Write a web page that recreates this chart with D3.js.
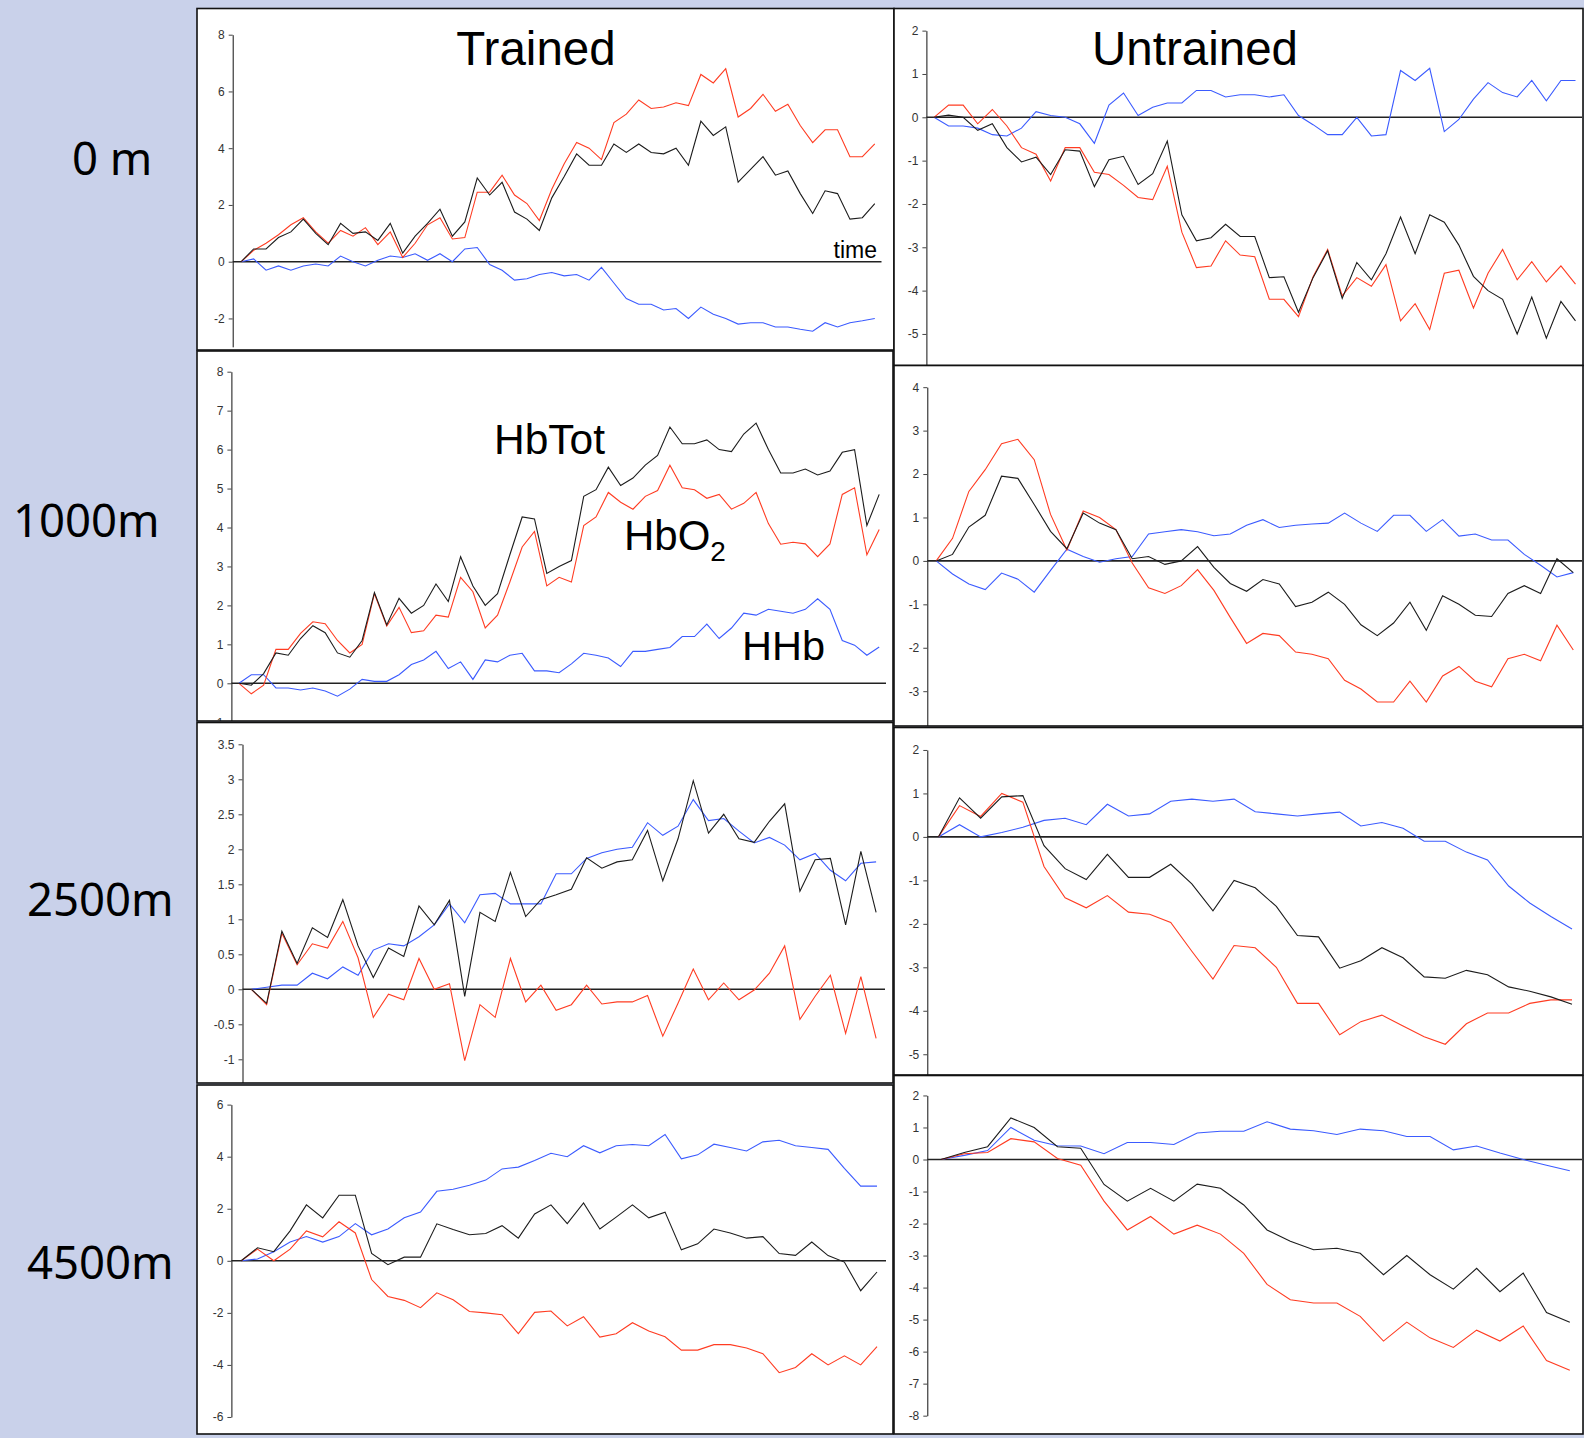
<!DOCTYPE html>
<html>
<head>
<meta charset="utf-8">
<script src="https://cdn.jsdelivr.net/npm/d3@7"></script>
<style>
  html, body { margin: 0; padding: 0; background: #c9d1ea; }
  svg { display: block; }
</style>
</head>
<body>
<svg id="chart" width="1584" height="1438"></svg>
<script>
// ---- Haemoglobin changes (arbitrary units) over time, per altitude and group ----

// Trained, 0 m
const trained0_HbTot = [0,0.45,0.45,0.85,1.05,1.5,1.0,0.6,1.35,1.0,1.05,0.75,1.35,0.3,0.9,1.35,1.85,0.9,1.4,2.95,2.35,2.8,1.75,1.5,1.1,2.25,3.0,3.8,3.4,3.4,4.15,3.85,4.15,3.85,3.8,4.0,3.4,4.95,4.45,4.75,2.8,3.25,3.7,3.05,3.2,2.4,1.7,2.5,2.4,1.5,1.55,2.05];
const trained0_HbO2  = [0,0.4,0.65,0.95,1.3,1.55,1.05,0.65,1.1,0.9,1.2,0.6,1.05,0.15,0.65,1.3,1.55,0.8,0.85,2.45,2.45,3.05,2.35,2.05,1.45,2.55,3.45,4.2,4.0,3.6,4.9,5.2,5.7,5.4,5.45,5.6,5.5,6.6,6.3,6.8,5.1,5.4,5.9,5.3,5.55,4.8,4.2,4.65,4.65,3.7,3.7,4.15];
const trained0_HHb   = [0,0.1,-0.3,-0.15,-0.3,-0.15,-0.08,-0.15,0.2,0.0,-0.15,0.05,0.2,0.15,0.28,0.05,0.28,0.0,0.45,0.5,-0.1,-0.3,-0.65,-0.6,-0.45,-0.38,-0.5,-0.45,-0.65,-0.2,-0.75,-1.3,-1.5,-1.5,-1.7,-1.65,-2.0,-1.6,-1.85,-2.0,-2.2,-2.15,-2.15,-2.3,-2.3,-2.38,-2.45,-2.15,-2.3,-2.15,-2.08,-2.0];

// Trained, 1000 m
const trained1000_HbTot = [0,-0.05,0.25,0.78,0.72,1.15,1.48,1.3,0.78,0.67,1.1,2.33,1.5,2.18,1.8,2.0,2.55,2.1,3.25,2.5,2.0,2.3,3.3,4.27,4.22,2.82,3.0,3.15,4.8,4.97,5.55,5.08,5.27,5.6,5.85,6.58,6.15,6.15,6.25,6.0,5.95,6.4,6.68,6.0,5.4,5.4,5.5,5.35,5.45,5.93,6.0,4.05,4.85];
const trained1000_HbO2  = [0,-0.27,-0.05,0.87,0.87,1.28,1.58,1.53,1.1,0.78,1.0,2.3,1.47,1.95,1.3,1.35,1.75,1.7,2.72,2.35,1.42,1.75,2.6,3.5,3.9,2.5,2.72,2.6,4.05,4.27,4.9,4.65,4.47,4.8,4.95,5.6,5.02,4.97,4.75,4.85,4.47,4.62,4.9,4.1,3.57,3.62,3.58,3.25,3.58,4.85,5.02,3.3,3.95];
const trained1000_HHb   = [0,0.22,0.22,-0.12,-0.12,-0.17,-0.12,-0.2,-0.33,-0.15,0.1,0.05,0.05,0.22,0.48,0.6,0.82,0.38,0.55,0.1,0.6,0.55,0.72,0.77,0.32,0.32,0.27,0.5,0.77,0.72,0.65,0.43,0.82,0.82,0.87,0.92,1.2,1.2,1.52,1.15,1.42,1.8,1.75,1.9,1.85,1.8,1.9,2.17,1.9,1.1,0.98,0.72,0.93];

// Trained, 2500 m
const trained2500_HbTot = [0,-0.2,0.83,0.37,0.88,0.74,1.28,0.62,0.17,0.59,0.47,1.19,0.92,1.27,-0.1,1.1,0.97,1.67,1.04,1.28,1.35,1.43,1.88,1.73,1.82,1.85,2.27,1.55,2.15,2.98,2.23,2.5,2.15,2.1,2.4,2.65,1.4,1.85,1.87,0.92,1.97,1.1];
const trained2500_HbO2  = [0,-0.22,0.8,0.35,0.65,0.59,0.97,0.45,-0.4,-0.07,-0.15,0.44,0.0,0.08,-1.02,-0.22,-0.4,0.44,-0.18,0.06,-0.3,-0.22,0.06,-0.21,-0.18,-0.18,-0.09,-0.67,-0.2,0.29,-0.15,0.09,-0.15,-0.01,0.23,0.62,-0.43,-0.1,0.2,-0.63,0.18,-0.7];
const trained2500_HHb   = [0,0.03,0.06,0.06,0.23,0.15,0.32,0.2,0.56,0.65,0.62,0.75,0.92,1.22,0.95,1.35,1.37,1.22,1.22,1.22,1.65,1.65,1.87,1.95,2.0,2.03,2.38,2.2,2.33,2.71,2.41,2.44,2.26,2.09,2.17,2.06,1.85,1.94,1.7,1.55,1.8,1.82];

// Trained, 4500 m
const trained4500_HbTot = [0,0.5,0.35,1.15,2.15,1.65,2.52,2.52,0.28,-0.15,0.14,0.14,1.42,1.2,1.0,1.05,1.35,0.87,1.8,2.15,1.43,2.22,1.22,1.68,2.15,1.65,1.87,0.42,0.65,1.22,1.07,0.87,0.93,0.28,0.21,0.72,0.2,-0.05,-1.15,-0.43];
const trained4500_HbO2  = [0,0.45,0.0,0.45,1.15,0.92,1.5,1.07,-0.72,-1.37,-1.52,-1.8,-1.23,-1.5,-1.95,-2.0,-2.07,-2.8,-1.98,-1.93,-2.5,-2.15,-2.93,-2.8,-2.38,-2.7,-2.92,-3.43,-3.43,-3.22,-3.22,-3.35,-3.57,-4.3,-4.1,-3.57,-4.0,-3.65,-4.0,-3.3];
const trained4500_HHb   = [0,0.07,0.35,0.72,0.93,0.72,0.93,1.43,1.0,1.22,1.65,1.87,2.67,2.75,2.9,3.1,3.53,3.6,3.85,4.13,4.0,4.42,4.15,4.42,4.47,4.42,4.85,3.92,4.07,4.48,4.35,4.22,4.57,4.63,4.42,4.35,4.28,3.55,2.87,2.87];

// Untrained, 0 m
const untrained0_HbTot = [0,0.05,0.0,-0.3,-0.15,-0.7,-1.03,-0.92,-1.32,-0.75,-0.78,-1.6,-0.98,-0.9,-1.55,-1.3,-0.55,-2.25,-2.85,-2.78,-2.47,-2.75,-2.75,-3.7,-3.68,-4.5,-3.7,-3.08,-4.18,-3.35,-3.75,-3.15,-2.3,-3.15,-2.25,-2.42,-2.95,-3.67,-4.0,-4.2,-5.0,-4.15,-5.1,-4.25,-4.7];
const untrained0_HbO2  = [0,0.28,0.28,-0.15,0.18,-0.2,-0.7,-0.85,-1.47,-0.7,-0.7,-1.27,-1.32,-1.57,-1.85,-1.9,-1.13,-2.65,-3.47,-3.43,-2.85,-3.18,-3.22,-4.2,-4.2,-4.6,-3.68,-3.05,-4.12,-3.7,-3.9,-3.4,-4.7,-4.3,-4.9,-3.6,-3.53,-4.4,-3.6,-3.05,-3.75,-3.33,-3.8,-3.43,-3.85];
const untrained0_HHb   = [0,-0.2,-0.2,-0.25,-0.4,-0.43,-0.25,0.13,0.04,0.0,-0.15,-0.6,0.28,0.56,0.04,0.23,0.33,0.33,0.62,0.62,0.47,0.52,0.52,0.47,0.52,0.04,-0.17,-0.4,-0.4,0.0,-0.43,-0.4,1.08,0.85,1.13,-0.33,-0.05,0.42,0.8,0.57,0.47,0.85,0.38,0.85,0.85];

// Untrained, 1000 m
const untrained1000_HbTot = [0,0.15,0.78,1.05,1.95,1.9,1.3,0.68,0.28,1.1,0.87,0.72,0.05,0.1,-0.08,0.0,0.33,-0.15,-0.52,-0.7,-0.43,-0.53,-1.05,-0.95,-0.72,-1.0,-1.47,-1.72,-1.43,-0.95,-1.6,-0.8,-1.0,-1.25,-1.28,-0.75,-0.57,-0.75,0.05,-0.27];
const untrained1000_HbO2  = [0,0.52,1.6,2.1,2.7,2.8,2.33,1.07,0.25,1.15,1.0,0.72,-0.05,-0.62,-0.75,-0.57,-0.2,-0.68,-1.3,-1.9,-1.67,-1.72,-2.1,-2.15,-2.25,-2.75,-2.95,-3.25,-3.25,-2.77,-3.25,-2.65,-2.43,-2.77,-2.9,-2.25,-2.15,-2.3,-1.48,-2.05];
const untrained1000_HHb   = [0,-0.3,-0.53,-0.66,-0.28,-0.42,-0.72,-0.22,0.27,0.1,-0.03,0.05,0.1,0.62,0.67,0.72,0.67,0.58,0.62,0.82,0.95,0.77,0.82,0.85,0.87,1.1,0.87,0.68,1.05,1.05,0.68,0.95,0.57,0.62,0.48,0.48,0.15,-0.1,-0.37,-0.27];

// Untrained, 2500 m
const untrained2500_HbTot = [0,0.9,0.43,0.92,0.95,-0.2,-0.73,-0.98,-0.4,-0.93,-0.93,-0.63,-1.08,-1.7,-1.0,-1.17,-1.6,-2.27,-2.3,-3.02,-2.85,-2.55,-2.78,-3.22,-3.25,-3.07,-3.17,-3.45,-3.55,-3.68,-3.85];
const untrained2500_HbO2  = [0,0.72,0.47,1.0,0.8,-0.68,-1.4,-1.63,-1.35,-1.73,-1.78,-1.97,-2.63,-3.27,-2.5,-2.55,-3.0,-3.83,-3.83,-4.55,-4.25,-4.1,-4.35,-4.6,-4.77,-4.3,-4.05,-4.05,-3.83,-3.75,-3.75];
const untrained2500_HHb   = [0,0.28,0.0,0.1,0.22,0.38,0.43,0.28,0.75,0.48,0.53,0.82,0.87,0.82,0.87,0.58,0.53,0.48,0.53,0.57,0.25,0.33,0.2,-0.1,-0.1,-0.35,-0.53,-1.13,-1.52,-1.83,-2.12];

// Untrained, 4500 m
const untrained4500_HbTot = [0,0.22,0.4,1.3,1.0,0.4,0.35,-0.78,-1.3,-0.9,-1.3,-0.77,-0.9,-1.42,-2.2,-2.55,-2.82,-2.77,-2.93,-3.6,-3.0,-3.6,-4.05,-3.4,-4.13,-3.55,-4.78,-5.08];
const untrained4500_HbO2  = [0,0.18,0.22,0.65,0.55,0.03,-0.18,-1.3,-2.2,-1.78,-2.33,-2.05,-2.33,-2.93,-3.9,-4.38,-4.48,-4.48,-4.9,-5.67,-5.08,-5.57,-5.87,-5.33,-5.67,-5.2,-6.28,-6.58];
const untrained4500_HHb   = [0,0.13,0.28,1.0,0.6,0.43,0.42,0.18,0.53,0.53,0.47,0.83,0.88,0.88,1.18,0.95,0.9,0.78,0.95,0.9,0.72,0.72,0.3,0.42,0.2,0.0,-0.18,-0.35];

// Y-axis tick values
const ticksTrained0    = [-2, 0, 2, 4, 6, 8];
const ticksTrained1000 = [-1, 0, 1, 2, 3, 4, 5, 6, 7, 8];
const ticksTrained2500 = [-1, -0.5, 0, 0.5, 1, 1.5, 2, 2.5, 3, 3.5];
const ticksTrained4500 = [-6, -4, -2, 0, 2, 4, 6];
const ticksUntrained0    = [-5, -4, -3, -2, -1, 0, 1, 2];
const ticksUntrained1000 = [-4, -3, -2, -1, 0, 1, 2, 3, 4];
const ticksUntrained2500 = [-5, -4, -3, -2, -1, 0, 1, 2];
const ticksUntrained4500 = [-8, -7, -6, -5, -4, -3, -2, -1, 0, 1, 2];

const columnTitles   = ["Trained", "Untrained"];
const altitudeLabels = ["0 m", "1000m", "2500m", "4500m"];
const seriesOrder    = ["HHb", "HbO2", "HbTot"];
const seriesColor    = { HHb: "#3b5bff", HbO2: "#ff3c22", HbTot: "#1c1c1c" };

// Panel grid: frame box, axis placement and value range of each small chart
const panels = [
  { data: { HbTot: trained0_HbTot, HbO2: trained0_HbO2, HHb: trained0_HHb }, ticks: ticksTrained0,
    domain: [-3, 8], frame: [197, 8.5, 894, 350], axisX: 232.7, yZero: 261.7, unit: 28.375, x0: 241.2, x1: 874.8, zeroEnd: 881.5 },
  { data: { HbTot: trained1000_HbTot, HbO2: trained1000_HbO2, HHb: trained1000_HHb }, ticks: ticksTrained1000,
    domain: [-1, 8], frame: [197, 351, 893, 721], axisX: 231.4, yZero: 683.3, unit: 38.95, x0: 239, x1: 879.2, zeroEnd: 886 },
  { data: { HbTot: trained2500_HbTot, HbO2: trained2500_HbO2, HHb: trained2500_HHb }, ticks: ticksTrained2500,
    domain: [-1.5, 3.5], frame: [197, 722.5, 893, 1083], axisX: 242.5, yZero: 989.3, unit: 70, x0: 251.4, x1: 876.1, zeroEnd: 885 },
  { data: { HbTot: trained4500_HbTot, HbO2: trained4500_HbO2, HHb: trained4500_HHb }, ticks: ticksTrained4500,
    domain: [-6, 6], frame: [197, 1085, 893, 1434], axisX: 231.4, yZero: 1260.8, unit: 26.03, x0: 241.2, x1: 877, zeroEnd: 886 },
  { data: { HbTot: untrained0_HbTot, HbO2: untrained0_HbO2, HHb: untrained0_HHb }, ticks: ticksUntrained0,
    domain: [-6, 2], frame: [894, 8.5, 1583, 365.5], axisX: 926.4, yZero: 117.3, unit: 43.33, x0: 934, x1: 1575.5, zeroEnd: 1582 },
  { data: { HbTot: untrained1000_HbTot, HbO2: untrained1000_HbO2, HHb: untrained1000_HHb }, ticks: ticksUntrained1000,
    domain: [-4, 4], frame: [894, 365.5, 1583, 726], axisX: 927.3, yZero: 560.9, unit: 43.43, x0: 936.2, x1: 1573.3, zeroEnd: 1582 },
  { data: { HbTot: untrained2500_HbTot, HbO2: untrained2500_HbO2, HHb: untrained2500_HHb }, ticks: ticksUntrained2500,
    domain: [-6, 2], frame: [894, 727.5, 1583, 1075], axisX: 927.3, yZero: 836.9, unit: 43.47, x0: 938.4, x1: 1572, zeroEnd: 1582 },
  { data: { HbTot: untrained4500_HbTot, HbO2: untrained4500_HbO2, HHb: untrained4500_HHb }, ticks: ticksUntrained4500,
    domain: [-8, 2], frame: [894, 1075.5, 1583, 1434], axisX: 927.3, yZero: 1159.5, unit: 32.02, x0: 941, x1: 1569.8, zeroEnd: 1582 }
];

const svg = d3.select("#chart");
const FONT = "'Liberation Sans', Arial, Helvetica, sans-serif";

svg.append("rect").attr("width", 1584).attr("height", 1438).attr("fill", "#c9d1ea");

const defs = svg.append("defs");

panels.forEach((p, i) => {
  const [fx0, fy0, fx1, fy1] = p.frame;
  defs.append("clipPath").attr("id", "clip" + i)
    .append("rect").attr("x", fx0).attr("y", fy0).attr("width", fx1 - fx0).attr("height", fy1 - fy0);

  const g = svg.append("g");
  g.append("rect").attr("x", fx0).attr("y", fy0).attr("width", fx1 - fx0).attr("height", fy1 - fy0)
    .attr("fill", "#ffffff");

  const inner = g.append("g").attr("clip-path", `url(#clip${i})`);

  const n = p.data.HbTot.length;
  const x = d3.scaleLinear().domain([0, n - 1]).range([p.x0, p.x1]);
  const y = d3.scaleLinear().domain(p.domain)
    .range([p.yZero - p.domain[0] * p.unit, p.yZero - p.domain[1] * p.unit]);

  // value axis
  const axis = d3.axisLeft(y).tickValues(p.ticks).tickSize(4).tickSizeOuter(0).tickPadding(4)
    .tickFormat(d => String(d));
  const ag = inner.append("g").attr("transform", `translate(${p.axisX},0)`).call(axis);
  ag.select(".domain").attr("stroke", "#111").attr("stroke-width", 1);
  ag.selectAll(".tick line").attr("stroke", "#444");
  ag.selectAll(".tick text").attr("fill", "#333").attr("font-family", FONT).attr("font-size", 12);

  // zero line (time axis)
  inner.append("line")
    .attr("x1", p.axisX).attr("x2", p.zeroEnd)
    .attr("y1", y(0)).attr("y2", y(0))
    .attr("stroke", "#222").attr("stroke-width", 1.6);

  const line = d3.line().x((d, k) => x(k)).y(d => y(d));
  seriesOrder.forEach(s => {
    inner.append("path").datum(p.data[s])
      .attr("d", line)
      .attr("fill", "none")
      .attr("stroke", seriesColor[s])
      .attr("stroke-width", 1.1)
      .attr("stroke-linejoin", "miter");
  });

  g.append("rect").attr("x", fx0).attr("y", fy0).attr("width", fx1 - fx0).attr("height", fy1 - fy0)
    .attr("fill", "none").attr("stroke", "#111").attr("stroke-width", 1.6);
});

// Column titles
svg.append("text").text(columnTitles[0]).attr("x", 536).attr("y", 65)
  .attr("text-anchor", "middle").attr("font-family", FONT).attr("font-size", 47.5).attr("fill", "#000");
svg.append("text").text(columnTitles[1]).attr("x", 1195).attr("y", 65)
  .attr("text-anchor", "middle").attr("font-family", FONT).attr("font-size", 47.5).attr("fill", "#000");

// Time axis label
svg.append("text").text("time").attr("x", 877).attr("y", 258)
  .attr("text-anchor", "end").attr("font-family", FONT).attr("font-size", 23).attr("fill", "#000");

// Series labels
svg.append("text").text("HbTot").attr("x", 494).attr("y", 454)
  .attr("font-family", FONT).attr("font-size", 42.5).attr("fill", "#000");
const o2 = svg.append("text").attr("x", 624).attr("y", 550)
  .attr("font-family", FONT).attr("font-size", 42).attr("fill", "#000");
o2.append("tspan").text("HbO");
o2.append("tspan").text("2").attr("font-size", 28).attr("dy", 11);
svg.append("text").text("HHb").attr("x", 742).attr("y", 660)
  .attr("font-family", FONT).attr("font-size", 41.5).attr("fill", "#000");

// Altitude labels
const altPos = [[72, 175], [13, 537], [27, 916], [27, 1279]];
altitudeLabels.forEach((t, i) => {
  svg.append("text").text(t).attr("x", altPos[i][0]).attr("y", altPos[i][1])
    .attr("font-family", "'Noto Sans', 'DejaVu Sans', sans-serif").attr("font-size", 45.5).attr("fill", "#000");
});
</script>
</body>
</html>
